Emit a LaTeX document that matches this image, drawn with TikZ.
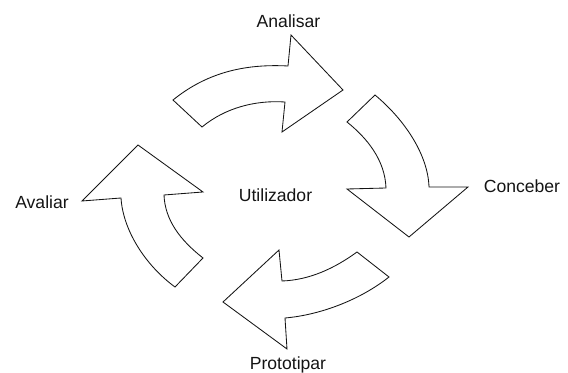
\documentclass[tikz,border=0pt]{standalone}
\usepackage{fontspec}
\setmainfont{Liberation Sans}
\usepackage{tikz}
\usetikzlibrary{positioning}
\definecolor{mydark}{RGB}{20,20,20}
\tikzset{
  seta/.style={draw=mydark, fill=white, line width=0.6pt, line join=miter},
  rotulo/.style={font=\fontsize{12.5}{15}\selectfont, text=mydark, inner sep=0pt}
}

\begin{document}
\begin{tikzpicture}[x=0.025cm, y=-0.025cm]
  \useasboundingbox (0,0) rectangle (568,373);

  % Centre
  \node[rotulo] (util) at (275.5,195) {Utilizador};

  % Arrow Analisar (top)
  \draw[seta] (173,100) .. controls (210,70) and (250,64) .. (288,66)
    -- (291,35) -- (343,90) -- (282,132) -- (285,102)
    .. controls (255,100) and (225,108) .. (202,127) -- cycle;

  % Arrow Conceber (right)
  \draw[seta] (375,95) .. controls (405,120) and (428,155) .. (429,187)
    -- (468,187) -- (409,237) -- (347,189) -- (386,188)
    .. controls (385,160) and (367,138) .. (347,122) -- cycle;

  % Arrow Prototipar (bottom)
  \draw[seta] (389,277) .. controls (360,300) and (320,315) .. (285,318)
    -- (287,349) -- (223,302) -- (279,250) -- (282,281)
    .. controls (310,280) and (335,268) .. (357,252) -- cycle;

  % Arrow Avaliar (left)
  \draw[seta] (175,287) .. controls (145,265) and (123,230) .. (121,198)
    -- (82,201) -- (138,145) -- (203,192) -- (164,195)
    .. controls (165,220) and (180,240) .. (203,258) -- cycle;

  % Labels
  \node[rotulo] (analisar) at (288.5,21) {Analisar};
  \node[rotulo] (conceber) at (522,186) {Conceber};
  \node[rotulo] (prototipar) at (288,365) {Prototipar};
  \node[rotulo] (avaliar) at (42,202) {Avaliar};
\end{tikzpicture}
\end{document}
